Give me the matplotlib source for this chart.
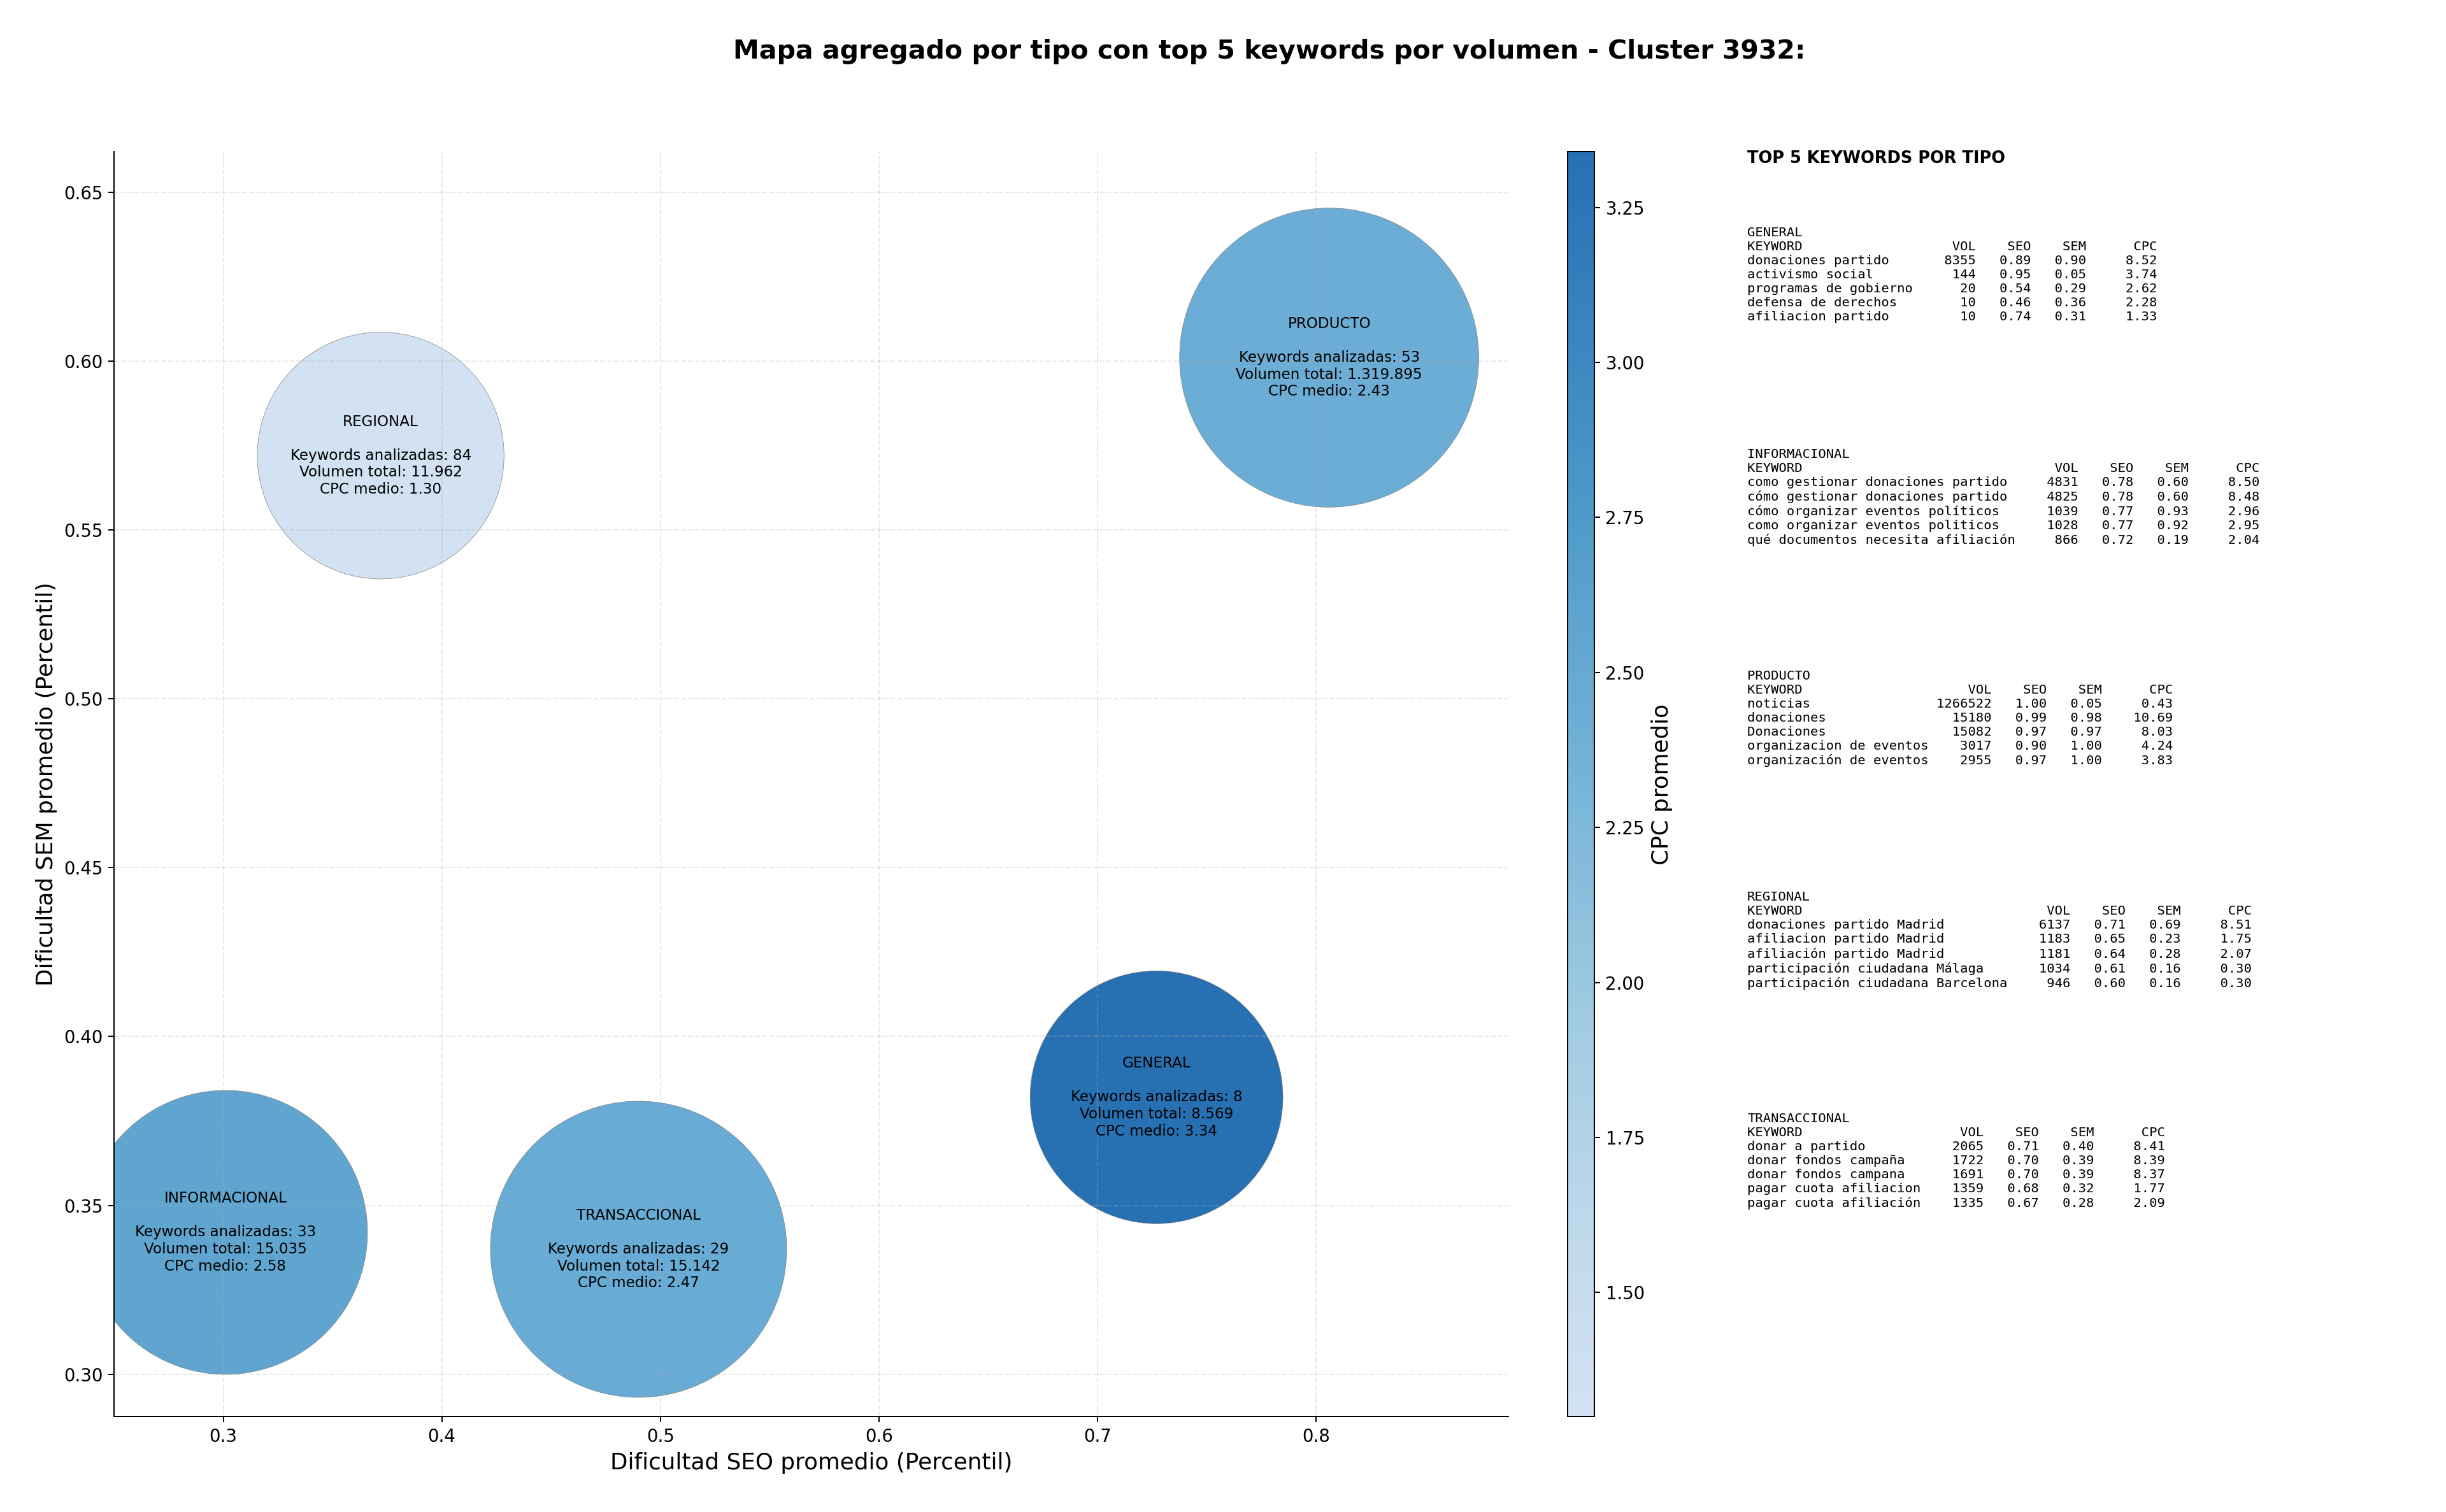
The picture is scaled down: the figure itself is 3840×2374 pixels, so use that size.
import matplotlib
matplotlib.use("Agg")
import matplotlib.pyplot as plt
import numpy as np
from matplotlib.colors import ListedColormap

# --- datos agregados por tipo ---
TIPOS = ["GENERAL", "INFORMACIONAL", "PRODUCTO", "REGIONAL", "TRANSACCIONAL"]
SEO_MEDIO = [0.727, 0.301, 0.806, 0.372, 0.490]
SEM_MEDIO = [0.382, 0.342, 0.601, 0.572, 0.337]
N_KEYWORDS = [8, 33, 53, 84, 29]
VOLUMEN_TOTAL = [8569, 15035, 1319895, 11962, 15142]
CPC_MEDIO = [3.34, 2.58, 2.43, 1.30, 2.47]

# tamano visual de cada burbuja (puntos^2)
TAMANOS = [25200, 31800, 35300, 24000, 34600]

# --- top 5 keywords por tipo: (keyword, vol, seo, sem, cpc) ---
TOP_GENERAL = [
    ("donaciones partido", 8355, 0.89, 0.90, 8.52),
    ("activismo social", 144, 0.95, 0.05, 3.74),
    ("programas de gobierno", 20, 0.54, 0.29, 2.62),
    ("defensa de derechos", 10, 0.46, 0.36, 2.28),
    ("afiliacion partido", 10, 0.74, 0.31, 1.33),
]
TOP_INFORMACIONAL = [
    ("como gestionar donaciones partido", 4831, 0.78, 0.60, 8.50),
    ("cómo gestionar donaciones partido", 4825, 0.78, 0.60, 8.48),
    ("cómo organizar eventos políticos", 1039, 0.77, 0.93, 2.96),
    ("como organizar eventos politicos", 1028, 0.77, 0.92, 2.95),
    ("qué documentos necesita afiliación", 866, 0.72, 0.19, 2.04),
]
TOP_PRODUCTO = [
    ("noticias", 1266522, 1.00, 0.05, 0.43),
    ("donaciones", 15180, 0.99, 0.98, 10.69),
    ("Donaciones", 15082, 0.97, 0.97, 8.03),
    ("organizacion de eventos", 3017, 0.90, 1.00, 4.24),
    ("organización de eventos", 2955, 0.97, 1.00, 3.83),
]
TOP_REGIONAL = [
    ("donaciones partido Madrid", 6137, 0.71, 0.69, 8.51),
    ("afiliacion partido Madrid", 1183, 0.65, 0.23, 1.75),
    ("afiliación partido Madrid", 1181, 0.64, 0.28, 2.07),
    ("participación ciudadana Málaga", 1034, 0.61, 0.16, 0.30),
    ("participación ciudadana Barcelona", 946, 0.60, 0.16, 0.30),
]
TOP_TRANSACCIONAL = [
    ("donar a partido", 2065, 0.71, 0.40, 8.41),
    ("donar fondos campaña", 1722, 0.70, 0.39, 8.39),
    ("donar fondos campana", 1691, 0.70, 0.39, 8.37),
    ("pagar cuota afiliacion", 1359, 0.68, 0.32, 1.77),
    ("pagar cuota afiliación", 1335, 0.67, 0.28, 2.09),
]
TOPS = [TOP_GENERAL, TOP_INFORMACIONAL, TOP_PRODUCTO, TOP_REGIONAL, TOP_TRANSACCIONAL]

DPI = 180
ANCHO, ALTO = 3840, 2374


def _miles(v):
    return f"{v:,}".replace(",", ".")


def _tabla(nombre, filas):
    w = max(len(f[0]) for f in filas)
    lineas = [nombre, f"{'KEYWORD':<{w}}{'VOL':>8}{'SEO':>7}{'SEM':>7}{'CPC':>9}"]
    for kw, vol, seo, sem, cpc in filas:
        lineas.append(f"{kw:<{w}}{vol:>8}{seo:>7.2f}{sem:>7.2f}{cpc:>9.2f}")
    return "\n".join(lineas)


fig = plt.figure(figsize=(ANCHO / DPI, ALTO / DPI), dpi=DPI)

izq, der = 179 / ANCHO, 2368 / ANCHO
abajo, arriba = 1 - 2224 / ALTO, 1 - 238 / ALTO
ax = fig.add_axes([izq, abajo, der - izq, arriba - abajo])
cax = fig.add_axes([2461 / ANCHO, abajo, 42 / ANCHO, arriba - abajo])

cmap = ListedColormap(plt.cm.Blues(np.linspace(0.2, 0.78, 256)))

sc = ax.scatter(SEO_MEDIO, SEM_MEDIO, s=TAMANOS, c=CPC_MEDIO, cmap=cmap,
                alpha=0.95, edgecolors="gray", linewidths=0.3)

for i, tipo in enumerate(TIPOS):
    txt = (f"{tipo}\n\nKeywords analizadas: {N_KEYWORDS[i]}\n"
           f"Volumen total: {_miles(VOLUMEN_TOTAL[i])}\nCPC medio: {CPC_MEDIO[i]:.2f}")
    ax.text(SEO_MEDIO[i], SEM_MEDIO[i], txt, ha="center", va="center", fontsize=9.2)

ax.set_xlim(0.25, 0.888)
ax.set_ylim(0.2875, 0.662)
ax.set_xlabel("Dificultad SEO promedio (Percentil)", fontsize=14.3)
ax.set_ylabel("Dificultad SEM promedio (Percentil)", fontsize=14.3)
ax.tick_params(labelsize=11)
ax.grid(True, linestyle="--", alpha=0.3)
ax.spines["top"].set_visible(False)
ax.spines["right"].set_visible(False)

cb = fig.colorbar(sc, cax=cax)
cb.set_label("CPC promedio", fontsize=14.3)
cb.ax.tick_params(labelsize=11)

fig.text(0.519, 1 - 81 / ALTO,
         "Mapa agregado por tipo con top 5 keywords por volumen - Cluster 3932:",
         ha="center", va="center", fontsize=16.4, fontweight="bold")

x_panel = 2743 / ANCHO
fig.text(x_panel, 1 - 236 / ALTO, "TOP 5 KEYWORDS POR TIPO",
         ha="left", va="top", fontsize=10.25, fontweight="bold")
for i, (tipo, filas) in enumerate(zip(TIPOS, TOPS)):
    y = 1 - (356 + i * 347.8) / ALTO
    fig.text(x_panel, y, _tabla(tipo, filas), ha="left", va="top",
             fontsize=8.2, family="DejaVu Sans Mono")

fig.savefig("out.png", dpi=DPI)
